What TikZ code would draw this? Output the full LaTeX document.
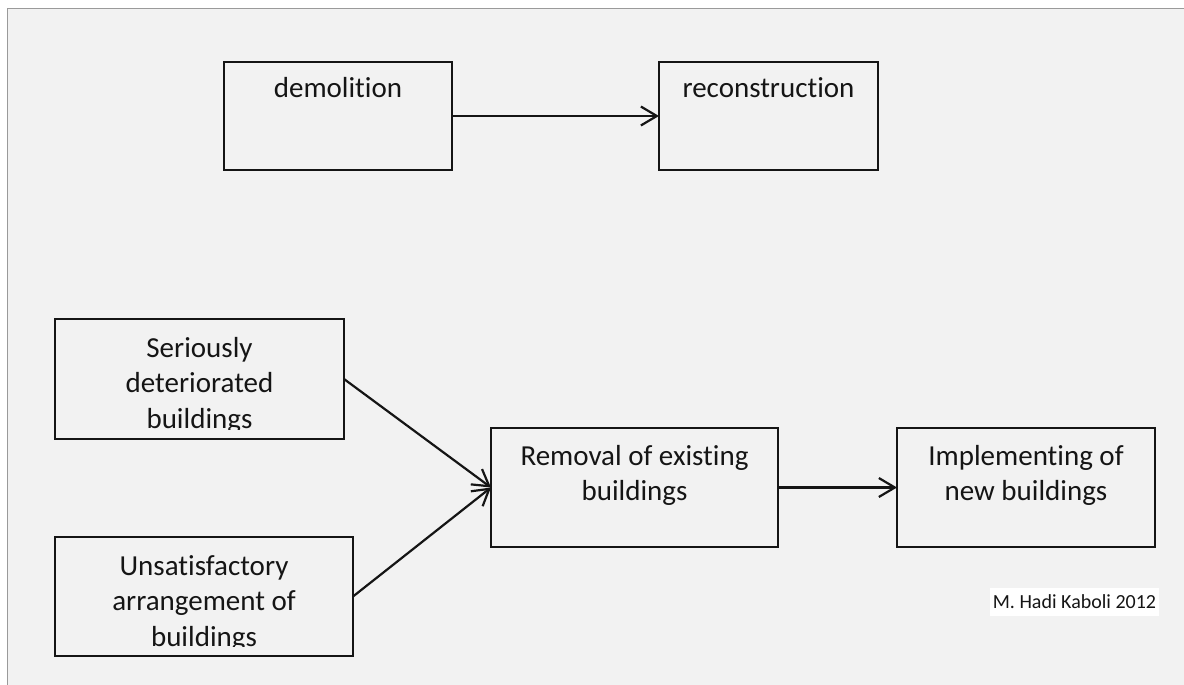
\documentclass[tikz,border=0pt]{standalone}
\usepackage{fontspec}
\setmainfont{Carlito}[Ligatures=NoCommon]
\usetikzlibrary{arrows.meta}
\definecolor{bggray}{HTML}{F2F2F2}
\definecolor{framegray}{HTML}{9A9A9A}
\definecolor{ink}{HTML}{151515}
\begin{document}
\begin{tikzpicture}[x=1pt,y=-1pt,
  box/.style={draw=ink, line width=2.2pt, rectangle, inner sep=0pt, outer sep=0pt},
  txt/.style={align=center, inner sep=0pt, text=ink, font=\fontsize{29}{35.5}\selectfont},
  conn/.style={draw=ink, line width=2.2pt, -{Straight Barb[length=16pt,width=19pt,line width=2.2pt]}}]
\useasboundingbox (0,0) rectangle (1184,685);
\fill[white] (0,0) rectangle (1184,685);
\fill[bggray] (7.5,8.5) rectangle (1184,685);
\draw[framegray, line width=1.6pt] (7.5,685) -- (7.5,8.5) -- (1184,8.5);

% boxes
\node[box, minimum width=228pt, minimum height=108pt] (dem) at (338,116) {};
\node[box, minimum width=219pt, minimum height=108pt] (rec) at (768.5,116) {};
\node[box, minimum width=289pt, minimum height=120pt] (ser) at (199.5,379) {};
\node[box, minimum width=298pt, minimum height=119pt] (uns) at (204,596.5) {};
\node[box, minimum width=287pt, minimum height=119pt] (rem) at (634.5,487.5) {};
\node[box, minimum width=258pt, minimum height=119pt] (imp) at (1026,487.5) {};

% texts (base anchor = baseline of the last line)
\node[txt, anchor=base] (demT) at ([yshift=-36pt]dem.north) {demolition};
\node[txt, anchor=base] (recT) at ([yshift=-36pt]rec.north) {reconstruction};
\begin{scope}
  \clip ([yshift=10pt]ser.south west) rectangle (ser.north east);
  \node[txt, anchor=base] (serT) at ([yshift=-109pt]ser.north) {Seriously\\deteriorated\\buildings};
\end{scope}
\begin{scope}
  \clip ([yshift=10pt]uns.south west) rectangle (uns.north east);
  \node[txt, anchor=base] (unsT) at ([yshift=-109pt]uns.north) {Unsatisfactory\\arrangement of\\buildings};
\end{scope}
\node[txt, anchor=base] (remT) at ([yshift=-72.5pt]rem.north) {Removal of existing\\buildings};
\node[txt, anchor=base] (impT) at ([yshift=-72.5pt]imp.north) {Implementing of\\new buildings};

% credit
\node[fill=white, inner xsep=3pt, inner ysep=0pt, minimum height=28pt, text=ink, font=\fontsize{20}{24}\selectfont] (cred) at (1074.5,602) {M. Hadi Kaboli 2012};

% connectors
\draw[conn] (dem.east) -- (rec.west);
\draw[conn] (ser.east) -- (rem.west);
\draw[conn] (uns.east) -- (rem.west);
\draw[conn] (rem.east) -- (imp.west);
\end{tikzpicture}
\end{document}
